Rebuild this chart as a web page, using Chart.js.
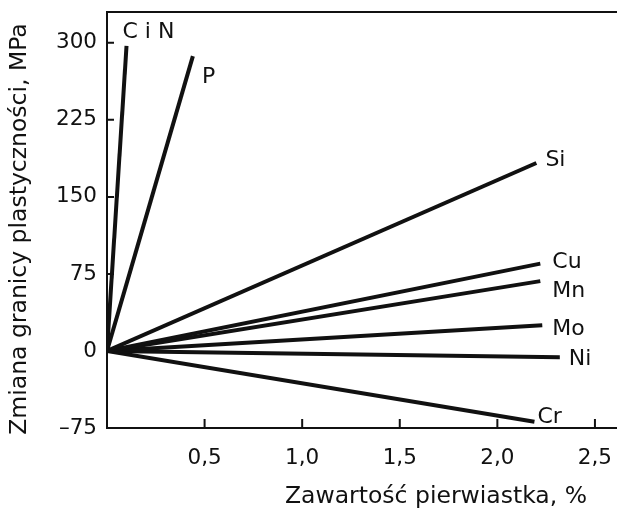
<!DOCTYPE html>
<html>
<head>
<meta charset="utf-8">
<script src="https://cdn.jsdelivr.net/npm/chart.js@4.4.1/dist/chart.umd.min.js"></script>
<style>
  html, body { margin: 0; padding: 0; background: #fff; }
  #wrap { width: 617px; height: 512px; }
</style>
</head>
<body>
<div id="wrap"><canvas id="chart"></canvas></div>
<script>
// element lines: all start at the origin, end at (content %, change MPa)
const elements = ["C i N", "P", "Si", "Cu", "Mn", "Mo", "Ni", "Cr"];
const endContent = [0.10, 0.44, 2.20, 2.22, 2.22, 2.23, 2.32, 2.19];
const endChange = [297, 287, 183, 85, 68, 25, -6, -69];

const xTicks = [0.5, 1.0, 1.5, 2.0, 2.5];
const yTicks = [-75, 0, 75, 150, 225, 300];

const xTitle = "Zawartość pierwiastka, %";
const yTitle = "Zmiana granicy plastyczności, MPa";

// where each name sits relative to its line end (px)
const labelOffsets = [[-4, -14], [9, 21], [9, -3], [12, -1], [12, 10], [10, 4], [9, 2], [3, -5]];

const INK = "#111";
const FONT = '"DejaVu Sans", sans-serif';

const frame = {
  id: "frame",
  afterDraw(chart) {
    const { ctx, chartArea: a, scales: { x, y } } = chart;
    ctx.save();
    ctx.strokeStyle = INK;
    ctx.lineWidth = 2;
    // top frame line, runs off the right edge like the scan
    ctx.beginPath();
    ctx.moveTo(a.left - 1, a.top);
    ctx.lineTo(chart.width, a.top);
    ctx.stroke();
    // inward tick marks
    ctx.beginPath();
    xTicks.forEach((v) => {
      const p = x.getPixelForValue(v);
      ctx.moveTo(p, a.bottom);
      ctx.lineTo(p, a.bottom - 9);
    });
    yTicks.forEach((v) => {
      const p = y.getPixelForValue(v);
      ctx.moveTo(a.left, p);
      ctx.lineTo(a.left + 7, p);
    });
    ctx.stroke();

    // element names at line ends
    ctx.fillStyle = INK;
    ctx.font = "22px " + FONT;
    ctx.textAlign = "left";
    ctx.textBaseline = "middle";
    chart.data.datasets.forEach((ds, i) => {
      const pt = chart.getDatasetMeta(i).data[1];
      const [dx, dy] = labelOffsets[i];
      ctx.fillText(ds.label, pt.x + dx, pt.y + dy);
    });

    // axis titles
    ctx.font = "23.5px " + FONT;
    ctx.textAlign = "center";
    ctx.fillText(xTitle, 436, 497);
    ctx.translate(20, 229);
    ctx.rotate(-Math.PI / 2);
    ctx.fillText(yTitle, 0, 0);
    ctx.restore();
  },
};

new Chart(document.getElementById("chart"), {
  type: "line",
  data: {
    datasets: elements.map((name, i) => ({
      label: name,
      data: [{ x: 0, y: 0 }, { x: endContent[i], y: endChange[i] }],
      borderColor: INK,
      borderWidth: 4,
      borderCapStyle: "butt",
      pointRadius: 0,
      tension: 0,
      fill: false,
    })),
  },
  options: {
    responsive: true,
    maintainAspectRatio: false,
    animation: false,
    layout: { padding: { top: 12, right: 0, left: 0, bottom: 0 } },
    plugins: { legend: { display: false }, tooltip: { enabled: false } },
    scales: {
      x: {
        type: "linear",
        min: 0,
        max: 2.613,
        afterBuildTicks: (s) => { s.ticks = xTicks.map((v) => ({ value: v })); },
        afterFit: (s) => { s.height = 84; s.paddingLeft = 0; s.paddingRight = 0; },
        grid: { display: false, drawTicks: false },
        border: { display: true, color: INK, width: 2 },
        ticks: {
          padding: 18,
          color: INK,
          font: { family: FONT, size: 21.5 },
          maxRotation: 0,
          callback: (v) => Number(v).toFixed(1).replace(".", ","),
        },
      },
      y: {
        type: "linear",
        min: -75,
        max: 330,
        afterBuildTicks: (s) => { s.ticks = yTicks.map((v) => ({ value: v })); },
        afterFit: (s) => { s.width = 107; s.paddingTop = 0; s.paddingBottom = 0; },
        grid: { display: false, drawTicks: false },
        border: { display: true, color: INK, width: 2 },
        ticks: {
          padding: 10,
          color: INK,
          font: { family: FONT, size: 21.5 },
          callback: (v) => (v < 0 ? "–" + Math.abs(v) : String(v)),
        },
      },
    },
  },
  plugins: [frame],
});
</script>
</body>
</html>
